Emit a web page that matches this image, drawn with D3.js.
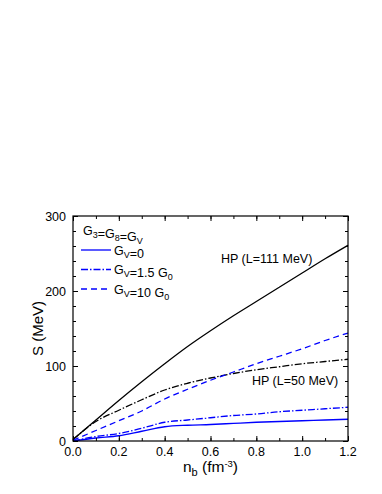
<!DOCTYPE html>
<html>
<head>
<meta charset="utf-8">
<script src="https://cdn.jsdelivr.net/npm/d3@7"></script>
<style>
  body { margin: 0; background: #fff; }
  text { font-family: "Liberation Sans", Arial, sans-serif; fill: #000; }
</style>
</head>
<body>
<div id="chart"></div>
<script>
// data
const nb = [0, 0.1, 0.2, 0.3, 0.4, 0.5, 0.6, 0.7, 0.8, 0.9, 1.0, 1.1, 1.2];
const hp111 = [2, 28, 54, 79, 103, 126, 147, 167, 186, 205, 224, 243, 261];
const hp50 = [2, 26, 41, 55, 68, 77, 84, 90, 95, 99, 103, 106, 109];
const gv0 = [0, 4, 7, 13, 19, 21, 22, 23.5, 25, 26, 27, 28, 29];
const gv15 = [0, 6, 10, 17, 25, 28, 31, 34, 36, 39, 41, 43, 45];
const gv10 = [1, 14, 27, 40, 56, 69, 81, 92, 103, 113, 123, 134, 144];
const xTicks = [0, 0.2, 0.4, 0.6, 0.8, 1.0, 1.2];
const yTicks = [0, 100, 200, 300];

const width = 382, height = 494;
const margin = { left: 73, right: 34, top: 216, bottom: 53 };

const svg = d3.select("#chart").append("svg")
    .attr("width", width)
    .attr("height", height);

const x = d3.scaleLinear().domain([0, 1.2]).range([margin.left, width - margin.right]);
const y = d3.scaleLinear().domain([0, 300]).range([height - margin.bottom, margin.top]);

const blue = "#0000ff";
const series = [
    { v: hp111, color: "#000", dash: null },
    { v: hp50, color: "#000", dash: "7,2,1.5,2" },
    { v: gv0, color: blue, dash: null },
    { v: gv15, color: blue, dash: "7,2,1.5,2" },
    { v: gv10, color: blue, dash: "6,4" }
];

const line = d3.line()
    .x((d, i) => x(nb[i]))
    .y(d => y(d))
    .curve(d3.curveMonotoneX);

svg.selectAll(".curve")
    .data(series)
    .enter()
    .append("path")
    .attr("class", "curve")
    .attr("d", d => line(d.v))
    .attr("fill", "none")
    .attr("stroke", d => d.color)
    .attr("stroke-width", 1.3)
    .attr("stroke-dasharray", d => d.dash);

// axes, ticks inside on all four sides
const x0 = x.range()[0], x1 = x.range()[1];
const y0 = y.range()[0], y1 = y.range()[1];

function ticks(axisGen, tr, size) {
    svg.append("g")
        .attr("transform", tr)
        .call(axisGen.tickSize(size).tickFormat(""))
        .call(g => g.select(".domain").remove())
        .call(g => g.selectAll("line").attr("stroke", "#000"));
}
const xMinor = d3.range(0, 1.201, 0.1);
const yMinor = d3.range(0, 301, 20);
ticks(d3.axisTop(x).tickValues(xMinor), `translate(0,${y0})`, 3);
ticks(d3.axisTop(x).tickValues(xTicks), `translate(0,${y0})`, 5);
ticks(d3.axisBottom(x).tickValues(xMinor), `translate(0,${y1})`, 3);
ticks(d3.axisBottom(x).tickValues(xTicks), `translate(0,${y1})`, 5);
ticks(d3.axisRight(y).tickValues(yMinor), `translate(${x0},0)`, 3);
ticks(d3.axisRight(y).tickValues(yTicks), `translate(${x0},0)`, 5);
ticks(d3.axisLeft(y).tickValues(yMinor), `translate(${x1},0)`, 3);
ticks(d3.axisLeft(y).tickValues(yTicks), `translate(${x1},0)`, 5);

svg.append("rect")
    .attr("x", x0).attr("y", y1)
    .attr("width", x1 - x0).attr("height", y0 - y1)
    .attr("fill", "none").attr("stroke", "#000").attr("stroke-width", 1.2);

// tick labels
svg.selectAll(".xl")
    .data(xTicks)
    .enter()
    .append("text")
    .attr("x", d => x(d))
    .attr("y", y0 + 15)
    .attr("text-anchor", "middle")
    .style("font-size", "12.5px")
    .text(d => d.toFixed(1));

svg.selectAll(".yl")
    .data(yTicks)
    .enter()
    .append("text")
    .attr("x", x0 - 7)
    .attr("y", d => y(d) + 4.5)
    .attr("text-anchor", "end")
    .style("font-size", "12.5px")
    .text(d => d);

// axis titles
const xt = svg.append("text")
    .attr("x", (x0 + x1) / 2)
    .attr("y", 472)
    .attr("text-anchor", "middle")
    .style("font-size", "15.5px");
xt.append("tspan").text("n");
xt.append("tspan").attr("dy", 4).style("font-size", "11px").text("b");
xt.append("tspan").attr("dy", -4).text(" (fm");
xt.append("tspan").attr("dy", -5).style("font-size", "9.5px").text("-3");
xt.append("tspan").attr("dy", 5).text(")");

svg.append("text")
    .attr("transform", `translate(43,${(y0 + y1) / 2}) rotate(-90)`)
    .attr("text-anchor", "middle")
    .style("font-size", "15px")
    .text("S (MeV)");

// legend
function subText(parent, parts) {
    parts.forEach(p => {
        if (p.sub) {
            parent.append("tspan").attr("dy", 3).style("font-size", "9px").text(p.sub);
            parent.append("tspan").attr("dy", -3).text("");
        } else {
            parent.append("tspan").text(p.t);
        }
    });
}

const title = svg.append("text")
    .attr("x", 83).attr("y", 235)
    .style("font-size", "12.5px");
subText(title, [{ t: "G" }, { sub: "3" }, { t: "=G" }, { sub: "8" }, { t: "=G" }, { sub: "V" }]);

const legendItems = [
    { dash: null, parts: [{ t: "G" }, { sub: "V" }, { t: "=0" }] },
    { dash: "7,2,1.5,2", parts: [{ t: "G" }, { sub: "V" }, { t: "=1.5 G" }, { sub: "0" }] },
    { dash: "6,4", parts: [{ t: "G" }, { sub: "V" }, { t: "=10 G" }, { sub: "0" }] }
];
legendItems.forEach((d, i) => {
    const ly = 250 + i * 19.5;
    svg.append("line")
        .attr("x1", 81).attr("x2", 111)
        .attr("y1", ly).attr("y2", ly)
        .attr("stroke", blue)
        .attr("stroke-width", 1.3)
        .attr("stroke-dasharray", d.dash);
    const t = svg.append("text")
        .attr("x", 114).attr("y", ly + 4.5)
        .style("font-size", "12.5px");
    subText(t, d.parts);
});

// annotations
svg.append("text")
    .attr("x", 221).attr("y", 263)
    .style("font-size", "12.5px")
    .text("HP (L=111 MeV)");
svg.append("text")
    .attr("x", 252).attr("y", 385)
    .style("font-size", "12.5px")
    .text("HP (L=50 MeV)");
</script>
</body>
</html>
